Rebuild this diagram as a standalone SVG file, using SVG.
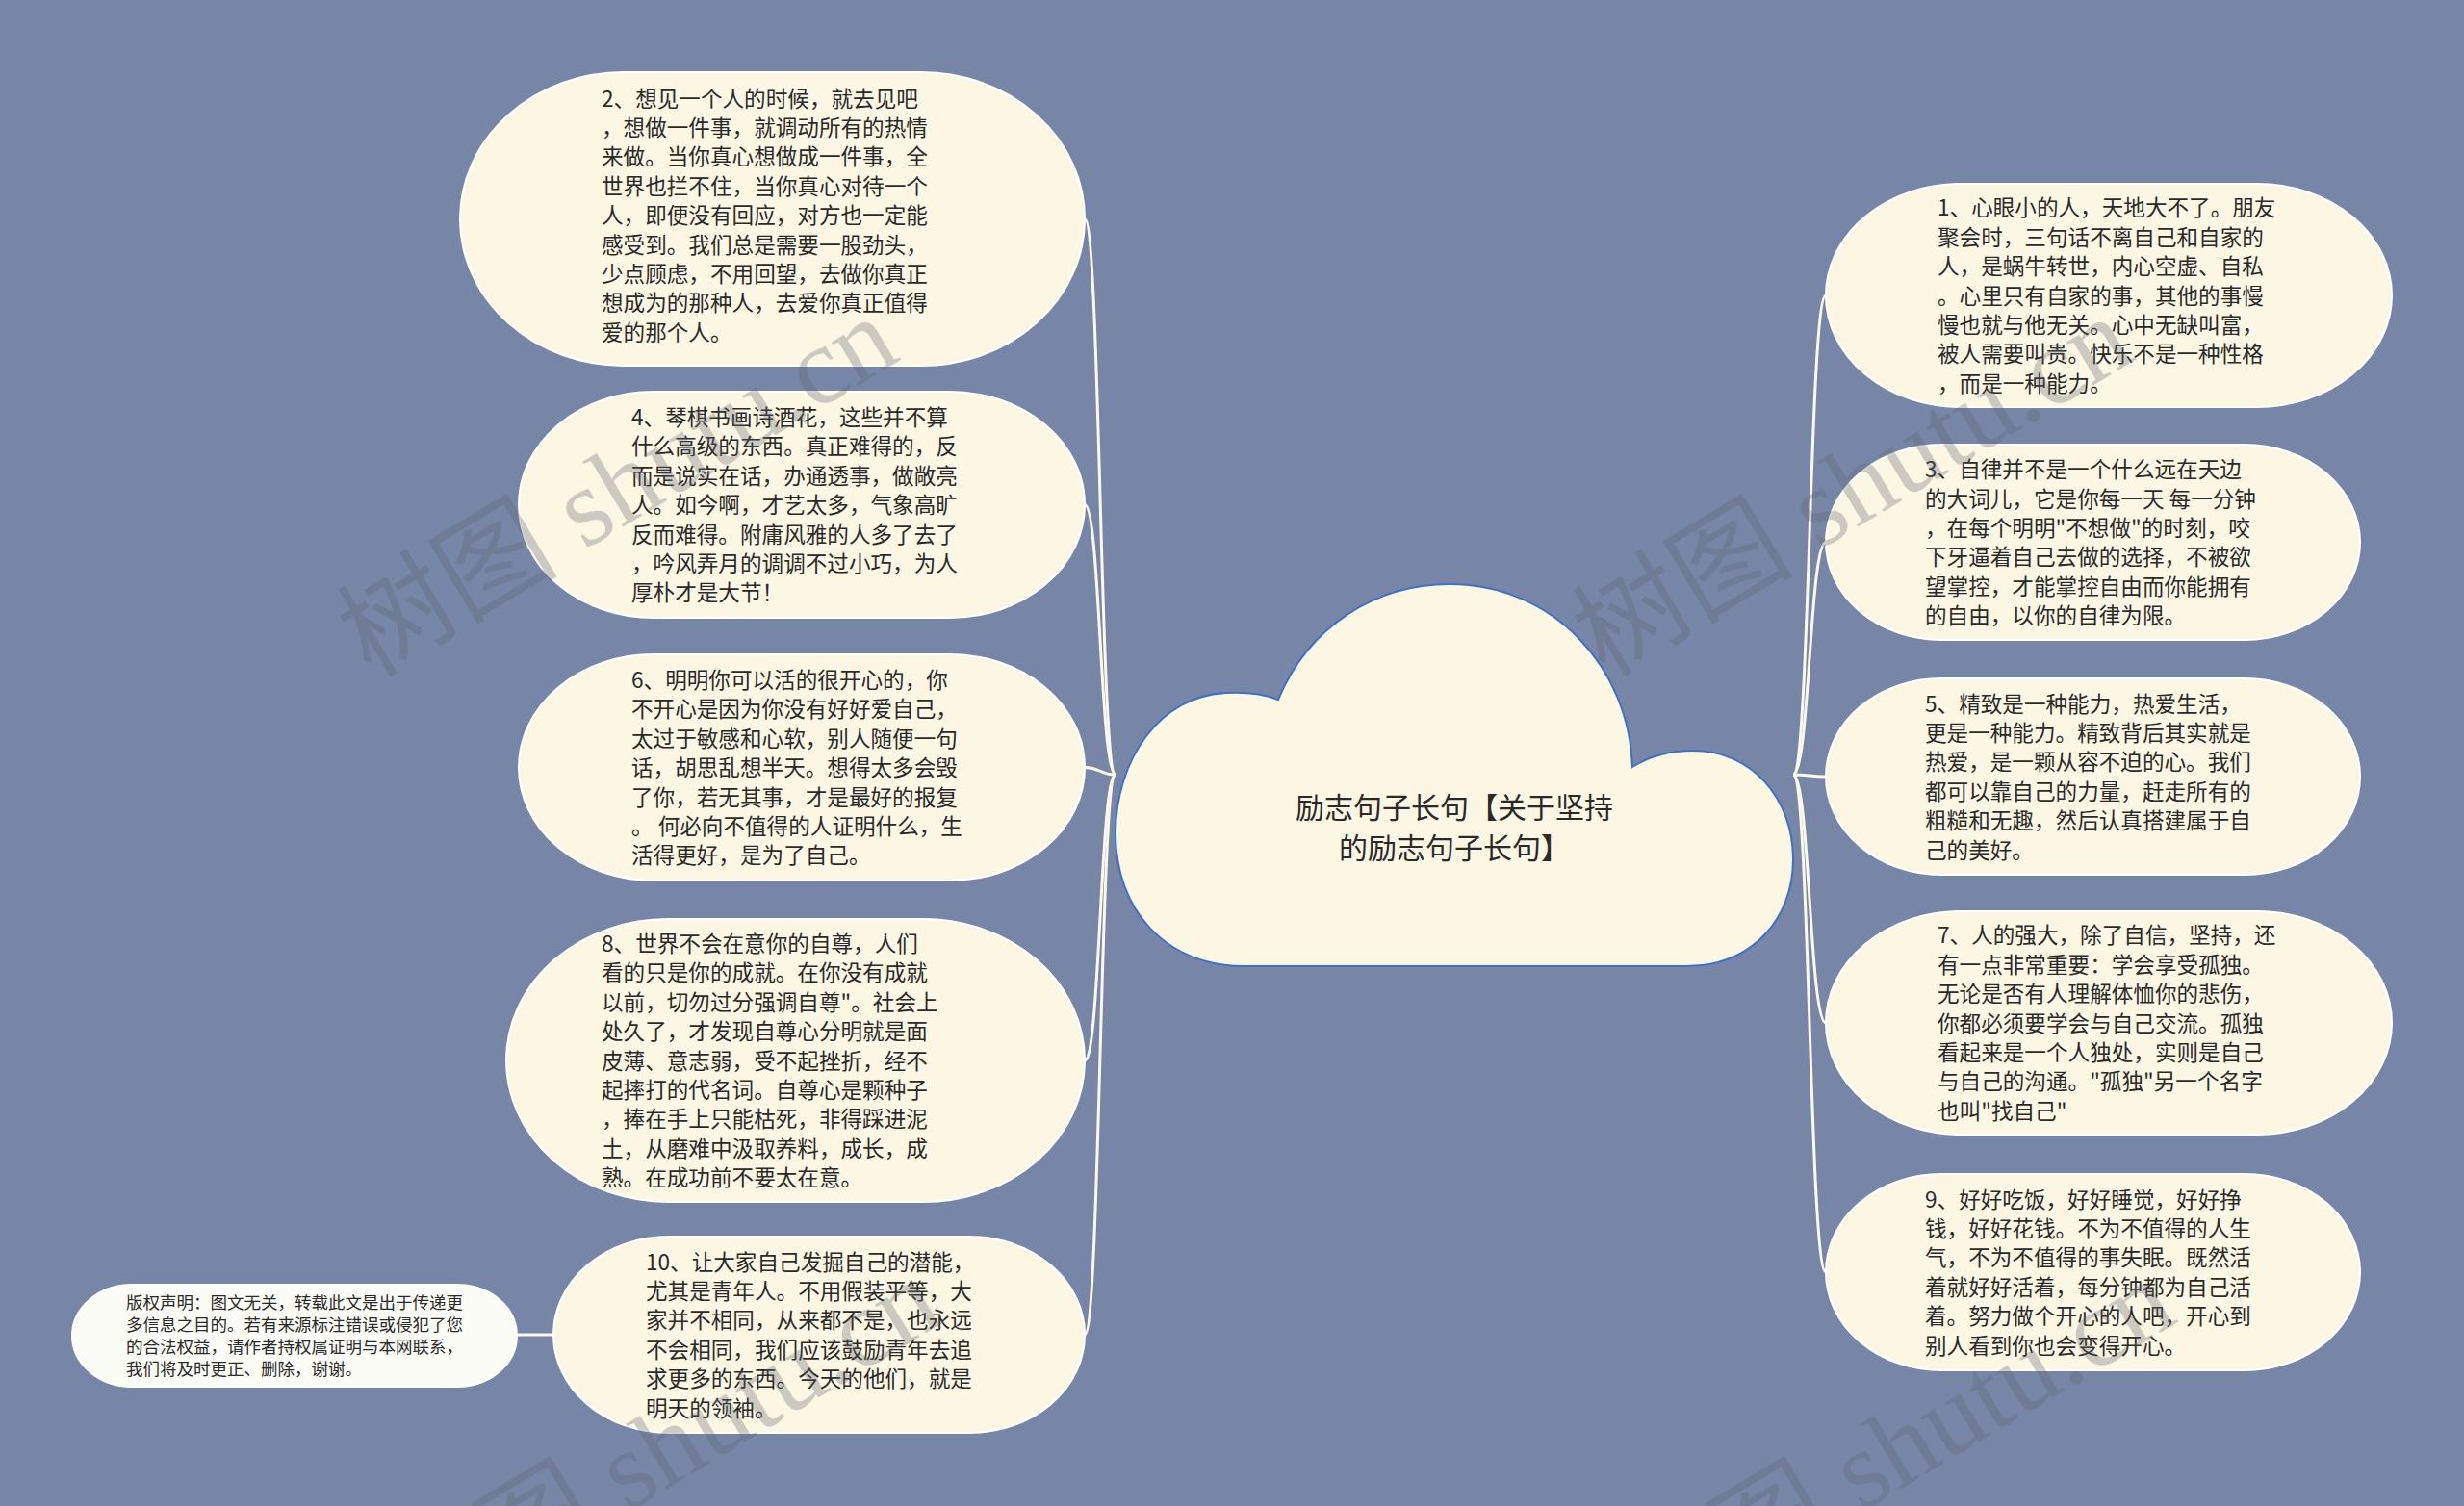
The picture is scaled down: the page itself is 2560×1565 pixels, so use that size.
<svg xmlns="http://www.w3.org/2000/svg" width="2560" height="1565" viewBox="0 0 2560 1565">
<style>
.bg{fill:#7786a7}
.node{fill:#fbf7e3;stroke:#ffffff;stroke-width:2}
.note{fill:#fcfcf6;stroke:#ffffff;stroke-width:2}
.cloud{fill:#fbf7e3;stroke:#3f72c6;stroke-width:2}
.t{font-family:"Noto Sans CJK SC","Liberation Sans",sans-serif;font-size:22.6px;fill:#2a2a2a}
.ts{font-family:"Noto Sans CJK SC","Liberation Sans",sans-serif;font-size:17.5px;fill:#2a2a2a}
.title{font-family:"Noto Sans CJK SC","Liberation Sans",sans-serif;font-size:30px;fill:#2a2a2a;text-anchor:middle}
.link{fill:none;stroke:#fbf8ea;stroke-width:3}
.wm{font-family:"Liberation Serif","Noto Sans CJK SC",serif;font-size:115px;fill:#5f6470;fill-opacity:0.3}
</style>
<rect class="bg" x="0" y="0" width="2560" height="1565"/>

<g id="connectors">
<path class="link" d="M1159 805 C1143 805,1143 227.5,1127 227.5"/>
<path class="link" d="M1159 805 C1143 805,1143 524.5,1127 524.5"/>
<path class="link" d="M1159 805 C1143 805,1143 797.5,1127 797.5"/>
<path class="link" d="M1159 805 C1143 805,1143 1102,1127 1102"/>
<path class="link" d="M1159 805 C1143 805,1143 1387,1127 1387"/>
<path class="link" d="M1863 805 C1880 805,1880 307,1897 307"/>
<path class="link" d="M1863 805 C1880 805,1880 563.5,1897 563.5"/>
<path class="link" d="M1863 805 C1880 805,1880 807,1897 807"/>
<path class="link" d="M1863 805 C1880 805,1880 1063,1897 1063"/>
<path class="link" d="M1863 805 C1880 805,1880 1322,1897 1322"/>
<path class="link" d="M575 1387 L537 1387"/>
</g>

<g id="root">
<path class="cloud" d="M1294 1004 C1210 1004,1159 945,1159 866 C1159 790,1205 722,1275 720 C1295 719,1315 722,1328 727 C1360 650,1430 607,1506 607 C1615 607,1693 695,1696 797 C1715 785,1738 780,1760 780 C1820 780,1863 830,1863 893 C1863 955,1820 1004,1752 1004 Z"/>
<text class="title" x="1511" y="849.5">励志句子长句【关于坚持</text>
<text class="title" x="1511" y="891.5">的励志句子长句】</text>
</g>

<g id="node2">
<rect class="node" x="478" y="75" width="649" height="305" rx="170" ry="152.5"/>
<text class="t" x="625" y="110.5">2、想见一个人的时候，就去见吧</text>
<text class="t" x="625" y="140.9">，想做一件事，就调动所有的热情</text>
<text class="t" x="625" y="171.3">来做。当你真心想做成一件事，全</text>
<text class="t" x="625" y="201.7">世界也拦不住，当你真心对待一个</text>
<text class="t" x="625" y="232.1">人，即便没有回应，对方也一定能</text>
<text class="t" x="625" y="262.5">感受到。我们总是需要一股劲头，</text>
<text class="t" x="625" y="292.9">少点顾虑，不用回望，去做你真正</text>
<text class="t" x="625" y="323.3">想成为的那种人，去爱你真正值得</text>
<text class="t" x="625" y="353.7">爱的那个人。</text>
</g>

<g id="node4">
<rect class="node" x="539" y="407" width="588" height="235" rx="140" ry="117.5"/>
<text class="t" x="656" y="441.9">4、琴棋书画诗酒花，这些并不算</text>
<text class="t" x="656" y="472.3">什么高级的东西。真正难得的，反</text>
<text class="t" x="656" y="502.7">而是说实在话，办通透事，做敞亮</text>
<text class="t" x="656" y="533.1">人。如今啊，才艺太多，气象高旷</text>
<text class="t" x="656" y="563.5">反而难得。附庸风雅的人多了去了</text>
<text class="t" x="656" y="593.9">，吟风弄月的调调不过小巧，为人</text>
<text class="t" x="656" y="624.3">厚朴才是大节！</text>
</g>

<g id="node6">
<rect class="node" x="539" y="680" width="588" height="235" rx="140" ry="117.5"/>
<text class="t" x="656" y="714.9">6、明明你可以活的很开心的，你</text>
<text class="t" x="656" y="745.3">不开心是因为你没有好好爱自己，</text>
<text class="t" x="656" y="775.7">太过于敏感和心软，别人随便一句</text>
<text class="t" x="656" y="806.1">话，胡思乱想半天。想得太多会毁</text>
<text class="t" x="656" y="836.5">了你，若无其事，才是最好的报复</text>
<text class="t" x="656" y="866.9">。 何必向不值得的人证明什么，生</text>
<text class="t" x="656" y="897.3">活得更好，是为了自己。</text>
</g>

<g id="node8">
<rect class="node" x="526" y="955" width="601" height="294" rx="168" ry="147"/>
<text class="t" x="625" y="989">8、世界不会在意你的自尊，人们</text>
<text class="t" x="625" y="1019.4">看的只是你的成就。在你没有成就</text>
<text class="t" x="625" y="1049.8">以前，切勿过分强调自尊"。社会上</text>
<text class="t" x="625" y="1080.2">处久了，才发现自尊心分明就是面</text>
<text class="t" x="625" y="1110.6">皮薄、意志弱，受不起挫折，经不</text>
<text class="t" x="625" y="1141">起摔打的代名词。自尊心是颗种子</text>
<text class="t" x="625" y="1171.4">，捧在手上只能枯死，非得踩进泥</text>
<text class="t" x="625" y="1201.8">土，从磨难中汲取养料，成长，成</text>
<text class="t" x="625" y="1232.2">熟。在成功前不要太在意。</text>
</g>

<g id="node10">
<rect class="node" x="575" y="1285" width="552" height="204" rx="120" ry="102"/>
<text class="t" x="671" y="1319.6">10、让大家自己发掘自己的潜能，</text>
<text class="t" x="671" y="1350">尤其是青年人。不用假装平等，大</text>
<text class="t" x="671" y="1380.4">家并不相同，从来都不是，也永远</text>
<text class="t" x="671" y="1410.8">不会相同，我们应该鼓励青年去追</text>
<text class="t" x="671" y="1441.2">求更多的东西。今天的他们，就是</text>
<text class="t" x="671" y="1471.6">明天的领袖。</text>
</g>

<g id="note">
<rect class="note" x="75" y="1335" width="462" height="106" rx="62" ry="53"/>
<text class="ts" x="131" y="1360.2">版权声明：图文无关，转载此文是出于传递更</text>
<text class="ts" x="131" y="1383.2">多信息之目的。若有来源标注错误或侵犯了您</text>
<text class="ts" x="131" y="1406.2">的合法权益，请作者持权属证明与本网联系，</text>
<text class="ts" x="131" y="1429.2">我们将及时更正、删除，谢谢。</text>
</g>

<g id="node1">
<rect class="node" x="1897" y="191" width="588" height="232" rx="140" ry="116"/>
<text class="t" x="2013" y="224.4">1、心眼小的人，天地大不了。朋友</text>
<text class="t" x="2013" y="254.8">聚会时，三句话不离自己和自家的</text>
<text class="t" x="2013" y="285.2">人，是蜗牛转世，内心空虚、自私</text>
<text class="t" x="2013" y="315.6">。心里只有自家的事，其他的事慢</text>
<text class="t" x="2013" y="346">慢也就与他无关。心中无缺叫富，</text>
<text class="t" x="2013" y="376.4">被人需要叫贵。快乐不是一种性格</text>
<text class="t" x="2013" y="406.8">，而是一种能力。</text>
</g>

<g id="node3">
<rect class="node" x="1897" y="462" width="555" height="203" rx="120" ry="101.5"/>
<text class="t" x="2000" y="496.1">3、自律并不是一个什么远在天边</text>
<text class="t" x="2000" y="526.5">的大词儿，它是你每一天 每一分钟</text>
<text class="t" x="2000" y="556.9">，在每个明明"不想做"的时刻，咬</text>
<text class="t" x="2000" y="587.3">下牙逼着自己去做的选择，不被欲</text>
<text class="t" x="2000" y="617.7">望掌控，才能掌控自由而你能拥有</text>
<text class="t" x="2000" y="648.1">的自由，以你的自律为限。</text>
</g>

<g id="node5">
<rect class="node" x="1897" y="705" width="555" height="204" rx="120" ry="102"/>
<text class="t" x="2000" y="739.6">5、精致是一种能力，热爱生活，</text>
<text class="t" x="2000" y="770">更是一种能力。精致背后其实就是</text>
<text class="t" x="2000" y="800.4">热爱，是一颗从容不迫的心。我们</text>
<text class="t" x="2000" y="830.8">都可以靠自己的力量，赶走所有的</text>
<text class="t" x="2000" y="861.2">粗糙和无趣，然后认真搭建属于自</text>
<text class="t" x="2000" y="891.6">己的美好。</text>
</g>

<g id="node7">
<rect class="node" x="1897" y="947" width="588" height="232" rx="140" ry="116"/>
<text class="t" x="2013" y="980.4">7、人的强大，除了自信，坚持，还</text>
<text class="t" x="2013" y="1010.8">有一点非常重要：学会享受孤独。</text>
<text class="t" x="2013" y="1041.2">无论是否有人理解体恤你的悲伤，</text>
<text class="t" x="2013" y="1071.6">你都必须要学会与自己交流。孤独</text>
<text class="t" x="2013" y="1102">看起来是一个人独处，实则是自己</text>
<text class="t" x="2013" y="1132.4">与自己的沟通。"孤独"另一个名字</text>
<text class="t" x="2013" y="1162.8">也叫"找自己"</text>
</g>

<g id="node9">
<rect class="node" x="1897" y="1220" width="555" height="204" rx="120" ry="102"/>
<text class="t" x="2000" y="1254.6">9、好好吃饭，好好睡觉，好好挣</text>
<text class="t" x="2000" y="1285">钱，好好花钱。不为不值得的人生</text>
<text class="t" x="2000" y="1315.4">气，不为不值得的事失眠。既然活</text>
<text class="t" x="2000" y="1345.8">着就好好活着，每分钟都为自己活</text>
<text class="t" x="2000" y="1376.2">着。努力做个开心的人吧，开心到</text>
<text class="t" x="2000" y="1406.6">别人看到你也会变得开心。</text>
</g>

<g id="watermarks">
<text class="wm" transform="translate(385 705) rotate(-31)">树图 shutu.cn</text>
<text class="wm" transform="translate(1668 705) rotate(-31)">树图 shutu.cn</text>
<text class="wm" transform="translate(430 1705) rotate(-31)">树图 shutu.cn</text>
<text class="wm" transform="translate(1712 1705) rotate(-31)">树图 shutu.cn</text>
</g>
</svg>
